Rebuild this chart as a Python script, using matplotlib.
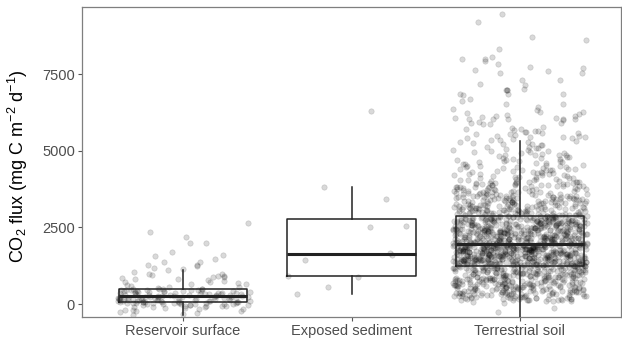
import numpy as np
import matplotlib
matplotlib.use("Agg")
import matplotlib.pyplot as plt

# ---------------- data (read / estimated from the reference picture) ----------------
categories = ["Reservoir surface", "Exposed sediment", "Terrestrial soil"]

reservoir_flux = [
    -362, -318, -290, -271, -244, -226, -205, -190, -171, -158, -140, -127, -113,
    -101, -92, -80, -69, -61, -50, -42, -33, -25, -17, -10, -4,
    2, 6, 11, 15, 19, 24, 28, 33, 37, 41, 45, 49, 53, 56, 59, 62, 64,
    68, 73, 77, 84, 86, 91, 96, 99, 104, 109, 113, 117, 122, 126, 130, 136, 139,
    143, 149, 152, 157, 162, 166, 170, 176, 179, 184, 189, 193, 197, 203, 206,
    211, 216, 220, 224, 230, 233, 238, 243, 247, 251, 256,
    264, 269, 276, 280, 286, 292, 297, 302, 309, 313, 319, 325, 330, 335, 342,
    346, 352, 358, 363, 368, 375, 379, 385, 391, 396, 401, 408, 412, 418, 424,
    429, 434, 441, 445, 451, 457, 462, 467, 474, 478, 483, 487,
    505, 528, 551, 566, 590, 612, 638, 655, 681, 702, 729, 748, 772, 805, 826,
    858, 870, 891, 913, 923, 945, 968, 978, 1054, 1108,
    1152, 1163, 1249, 1271, 1282, 1359, 1380, 1457, 1575, 1597, 1684, 1978,
    1978, 2174, 2357, 2650,
]

sediment_flux = [336, 544, 870, 923, 1434, 1597, 1652, 2520, 2553, 3423, 3804, 6302]

soil_flux = [
    -270, -118,
    31, 61, 87, 103,
    111, 115, 119, 123, 127, 133, 141, 146, 149, 153, 159, 162, 166, 171, 175,
    181, 189, 192, 197, 200, 203, 211, 218, 222, 227, 230, 234, 240, 244, 247,
    254, 258, 263, 267, 270, 275, 281, 283, 286, 291, 296, 300, 305, 308, 311,
    315, 318, 322, 325, 327, 332, 337, 340, 344, 348, 353, 357, 357, 361, 364,
    367, 372, 378, 381, 386, 389, 391, 396, 402, 405, 408, 412, 418, 421, 424,
    429, 435, 438, 441, 445, 449, 453, 459, 461, 464, 470, 475, 478, 481, 486,
    490, 493, 496, 499,
    504, 508, 512, 515, 517, 522, 527, 529, 532, 537, 542, 544, 547, 551, 552,
    556, 559, 561, 566, 570, 573, 575, 580, 585, 586, 588, 590, 595, 599, 602,
    605, 609, 614, 617, 619, 624, 628, 631, 633, 638, 643, 646, 648, 653, 658,
    660, 662, 667, 667, 672, 675, 677, 682, 687, 689, 692, 696, 701, 704, 706,
    709, 711, 716, 718, 721, 725, 730, 733, 735, 740, 745, 747,
    752, 756, 761, 763, 765, 770, 774, 776, 778, 783, 787, 789, 791, 796, 800,
    802, 805, 809, 813, 816, 818, 822, 827, 829, 831, 835, 840, 842, 844, 849,
    853, 855, 858, 862, 866, 868, 871, 875, 879, 882, 884, 888, 893, 895, 897,
    901, 906, 908, 910, 915, 919, 921, 924, 928, 932, 934, 937, 941, 945, 948,
    950, 954, 959, 961, 963, 967, 972, 974, 976, 981, 985, 987, 989, 994, 998, 999,
    1003, 1007, 1011, 1013, 1015, 1019, 1023, 1026, 1028, 1032, 1036, 1038, 1040,
    1044, 1048, 1050, 1052, 1057, 1061, 1063, 1065, 1069, 1073, 1075, 1077, 1081,
    1085, 1088, 1090, 1094, 1098, 1100, 1102, 1106, 1110, 1112, 1114, 1119, 1123,
    1125, 1127, 1131, 1135, 1137, 1139, 1143, 1147, 1150, 1152, 1156, 1160, 1162,
    1164, 1168, 1172, 1174, 1176, 1181, 1185, 1187, 1189, 1193, 1197, 1199, 1201,
    1205, 1209, 1212, 1214, 1218, 1222, 1224, 1226, 1230, 1234, 1236, 1238, 1243,
    1247, 1249,
    1251, 1253, 1255, 1258, 1260, 1262, 1263, 1266, 1266, 1268, 1270, 1272, 1274,
    1276, 1278, 1279, 1282, 1285, 1286, 1288, 1290, 1292, 1294, 1297, 1298, 1300,
    1302, 1305, 1306, 1308, 1310, 1311, 1313, 1315, 1317, 1319, 1320, 1323, 1326,
    1327, 1329, 1331, 1333, 1335, 1338, 1339, 1341, 1343, 1346, 1347, 1349, 1351,
    1354, 1356, 1358, 1360, 1362, 1364, 1366, 1368, 1370, 1372, 1374, 1376, 1379,
    1380, 1382, 1384, 1384, 1387, 1388, 1390, 1392, 1395, 1397, 1399, 1401, 1403,
    1405, 1407, 1409, 1411, 1413, 1415, 1417, 1420, 1421, 1423, 1425, 1428, 1429,
    1431, 1433, 1436, 1437, 1438, 1440, 1442, 1443, 1446, 1448, 1450, 1452, 1454,
    1456, 1458, 1461, 1462, 1464, 1466, 1469, 1470, 1472, 1474, 1477, 1479, 1481,
    1483, 1484, 1487, 1489, 1491, 1493, 1495, 1497, 1499,
    1502, 1504, 1506, 1508, 1511, 1512, 1514, 1516, 1519, 1520, 1523, 1525, 1527,
    1529, 1530, 1533, 1536, 1537, 1539, 1541, 1543, 1545, 1548, 1549, 1551, 1553,
    1553, 1556, 1557, 1559, 1561, 1564, 1566, 1568, 1570, 1571, 1574, 1577, 1578,
    1580, 1582, 1584, 1586, 1588, 1589, 1590, 1592, 1594, 1597, 1598, 1600, 1602,
    1605, 1607, 1609, 1611, 1613, 1615, 1617, 1619, 1621, 1623, 1625, 1627, 1630,
    1631, 1633, 1635, 1638, 1639, 1641, 1643, 1646, 1648, 1650, 1652, 1654, 1656,
    1658, 1660, 1662, 1664, 1666, 1668, 1669, 1671, 1672, 1674, 1676, 1679, 1680,
    1682, 1684, 1687, 1689, 1691, 1693, 1694, 1697, 1699, 1701, 1702, 1703, 1705,
    1707, 1709, 1712, 1713, 1715, 1717, 1720, 1721, 1723, 1725, 1728, 1730, 1732,
    1734, 1735, 1738, 1740, 1742, 1744, 1746, 1748,
    1752, 1754, 1756, 1758, 1759, 1761, 1764, 1765, 1767, 1769, 1771, 1772, 1775,
    1776, 1778, 1780, 1783, 1783, 1786, 1787, 1790, 1791, 1794, 1794, 1797, 1798,
    1801, 1801, 1802, 1805, 1805, 1809, 1809, 1812, 1813, 1816, 1816, 1820, 1821,
    1823, 1824, 1827, 1828, 1831, 1832, 1834, 1835, 1838, 1839, 1840, 1841, 1843,
    1845, 1847, 1849, 1851, 1852, 1854, 1856, 1859, 1860, 1862, 1863, 1866, 1867,
    1870, 1871, 1873, 1874, 1878, 1878, 1881, 1881, 1885, 1885, 1889, 1889, 1892,
    1892, 1893, 1896, 1897, 1900, 1900, 1903, 1904, 1907, 1908, 1911, 1911, 1912,
    1914, 1916, 1918, 1919, 1921, 1923, 1925, 1926, 1927, 1929, 1930, 1932, 1935,
    1936, 1938, 1940, 1942, 1943, 1946, 1947, 1949, 1950, 1953, 1954, 1955,
    1958, 1961, 1963, 1966, 1968, 1970, 1973, 1976, 1978, 1981, 1983, 1985, 1988,
    1990, 1993, 1996, 1998, 2000, 2003, 2005, 2008, 2011, 2013, 2015, 2018, 2020,
    2023, 2023, 2026, 2028, 2030, 2033, 2035, 2038, 2041, 2043, 2045, 2048, 2050,
    2053, 2056, 2058, 2060, 2063, 2065, 2068, 2071, 2073, 2075, 2078, 2080, 2083,
    2086, 2088, 2090, 2093, 2095, 2097, 2098, 2101, 2103, 2105, 2108, 2110, 2113,
    2116, 2118, 2120, 2123, 2125, 2128, 2131, 2133, 2135, 2138, 2140, 2143, 2146,
    2148, 2150, 2153, 2155, 2158, 2158, 2161, 2163, 2165, 2168, 2170, 2173, 2176,
    2178, 2180, 2183, 2185, 2188, 2191, 2193, 2195, 2198, 2200, 2203, 2206, 2208,
    2210, 2213, 2215, 2218, 2221, 2223, 2225, 2228, 2230, 2233, 2236, 2238, 2240,
    2243, 2246, 2248,
    2252, 2255, 2258, 2260, 2262, 2265, 2269, 2270, 2271, 2273, 2275, 2279, 2280,
    2284, 2286, 2288, 2291, 2295, 2296, 2297, 2299, 2301, 2304, 2306, 2310, 2311,
    2314, 2316, 2317, 2321, 2322, 2325, 2327, 2330, 2332, 2336, 2337, 2340, 2342,
    2344, 2347, 2347, 2351, 2353, 2356, 2358, 2362, 2363, 2366, 2368, 2373, 2373,
    2377, 2378, 2382, 2384, 2384, 2388, 2389, 2392, 2394, 2399, 2399, 2402, 2403,
    2404, 2408, 2409, 2414, 2414, 2418, 2419, 2420, 2425, 2425, 2429, 2430, 2434,
    2435, 2440, 2440, 2444, 2445, 2451, 2451, 2455, 2456, 2458, 2460, 2461, 2466,
    2466, 2470, 2471, 2476, 2477, 2481, 2482, 2486, 2487, 2492, 2492, 2496, 2497,
    2503, 2506, 2509, 2511, 2514, 2517, 2520, 2522, 2526, 2528, 2531, 2533, 2537,
    2539, 2542, 2544, 2547, 2548, 2550, 2554, 2556, 2559, 2561, 2561, 2565, 2567,
    2570, 2572, 2576, 2578, 2582, 2583, 2587, 2589, 2593, 2594, 2598, 2600, 2604,
    2606, 2610, 2611, 2615, 2617, 2619, 2621, 2622, 2626, 2628, 2632, 2633, 2638,
    2639, 2643, 2644, 2649, 2650, 2654, 2656, 2657, 2660, 2661, 2666, 2667, 2671,
    2672, 2677, 2678, 2682, 2683, 2688, 2689, 2692, 2694, 2694, 2699, 2700, 2705,
    2706, 2710, 2711, 2713, 2716, 2717, 2722, 2722, 2727, 2728, 2733, 2733, 2738,
    2739, 2741, 2744, 2744, 2749,
    2752, 2755, 2757, 2760, 2763, 2765, 2768, 2770, 2773, 2775, 2778, 2781, 2784,
    2786, 2789, 2791, 2794, 2796, 2799, 2801, 2805, 2807, 2810, 2812, 2815, 2817,
    2820, 2822, 2826, 2828, 2831, 2833, 2836, 2838, 2841, 2843, 2847, 2849, 2852,
    2854, 2857, 2859, 2862, 2864, 2868, 2870, 2873, 2875, 2878, 2879,
    2884, 2888, 2891, 2899, 2899, 2905, 2906, 2913, 2917, 2921, 2924, 2928, 2936,
    2936, 2943, 2943, 2950, 2956, 2958, 2962, 2965, 2972, 2975, 2980, 2981, 2987,
    2994, 2995, 3001, 3002, 3009, 3013, 3017, 3019, 3024, 3031, 3032, 3038, 3039,
    3046, 3051, 3054, 3057, 3061, 3068, 3070, 3076, 3076, 3083, 3089, 3090, 3095,
    3098, 3105, 3108, 3113, 3114, 3120, 3127, 3127, 3133, 3135, 3142, 3146, 3149,
    3152, 3157, 3164, 3165, 3171, 3172, 3179, 3184, 3186, 3190, 3194, 3201, 3203,
    3208, 3209, 3216, 3222, 3223, 3228, 3231, 3238, 3243, 3246,
    3254, 3256, 3262, 3271, 3271, 3279, 3279, 3287, 3294, 3296, 3302, 3304, 3312,
    3317, 3321, 3326, 3329, 3337, 3340, 3346, 3349, 3354, 3362, 3363, 3371, 3372,
    3379, 3386, 3387, 3396, 3396, 3404, 3410, 3412, 3419, 3421, 3429, 3433, 3437,
    3442, 3446, 3454, 3457, 3462, 3466, 3471, 3479, 3480, 3487, 3489, 3496, 3503,
    3504, 3512, 3512, 3521, 3527, 3529, 3536, 3537, 3546, 3550, 3554, 3559, 3562,
    3571, 3573, 3579, 3582, 3587, 3596, 3596,
    3605, 3608, 3617, 3628, 3631, 3639, 3643, 3651, 3662, 3666, 3674, 3678, 3685,
    3696, 3701, 3708, 3713, 3719, 3731, 3736, 3742, 3748, 3753, 3765, 3771, 3776,
    3783, 3788, 3799, 3806, 3810, 3818, 3822, 3833, 3841, 3845, 3853, 3856, 3867,
    3876, 3879, 3888, 3890, 3902, 3911, 3913, 3923, 3924, 3936, 3946, 3947, 3958,
    3959, 3970, 3981, 3981, 3993, 3993,
    4008, 4012, 4028, 4047, 4049, 4065, 4069, 4089, 4101, 4110, 4118, 4130, 4150,
    4153, 4171, 4171, 4191, 4206, 4211, 4224, 4232, 4252, 4259, 4272, 4277, 4293,
    4312, 4313, 4330, 4333, 4354, 4365, 4374, 4383, 4394, 4415, 4418, 4435, 4436,
    4455, 4471, 4476, 4489, 4496,
    4510, 4517, 4538, 4561, 4566, 4588, 4594, 4622, 4633, 4650, 4659, 4678, 4704,
    4706, 4731, 4734, 4762, 4774, 4790, 4802, 4818, 4846, 4846, 4873, 4874, 4902,
    4917, 4930, 4944, 4958, 4980, 4986,
    5017, 5024, 5055, 5083, 5093, 5118, 5131, 5169, 5177, 5207, 5212, 5245, 5268,
    5283, 5314,
    5345, 5360, 5385, 5400, 5420, 5440, 5455, 5455, 5470, 5490, 5510, 5530, 5545,
    5560, 5585, 5600, 5620, 5640, 5655, 5690, 5702, 5710, 5728, 5760, 5868, 5868,
    5891, 5911, 5945, 5998, 6021, 6021, 6032, 6032, 6032, 6054, 6075, 6108, 6119,
    6140, 6162, 6184, 6216, 6249, 6271, 6336, 6347, 6412, 6510, 6510, 6618, 6683,
    6813, 6836, 6846, 6846, 6989, 6989, 6989, 7010, 7130, 7184, 7302, 7302, 7540,
    7540, 7605, 7618, 7683, 7736, 7834, 7922, 7987, 7998, 8062, 8302, 8606, 8715,
    9203, 9454,
]

# box statistics
box_q1 = [65, 910, 1249]
box_median = [260, 1624, 1956]
box_q3 = [489, 2770, 2879]
whisker_low = [-362, 336, -700]
whisker_high = [1108, 3804, 5314]

y_ticks = [0, 2500, 5000, 7500]
y_label = "CO$_2$ flux (mg C m$^{-2}$ d$^{-1}$)"

# ---------------- styling ----------------
plt.rcParams['font.family'] = ['Liberation Sans', 'DejaVu Sans']
plt.rcParams['mathtext.default'] = 'regular'

W, H = 622, 338
fig = plt.figure(figsize=(W / 100, H / 100), dpi=100)
left, right, top, bottom = 82, 621, 7.3, 316.7
ax = fig.add_axes([left / W, 1 - bottom / H, (right - left) / W, (bottom - top) / H])

jitter = np.random.default_rng(11)
for i, vals in enumerate([reservoir_flux, sediment_flux, soil_flux]):
    vals = np.asarray(vals, dtype=float)
    xs = (i + 1) + jitter.uniform(-0.4, 0.4, len(vals))
    ax.scatter(xs, vals, s=15, facecolors='black', edgecolors='black',
               linewidths=0.5, alpha=0.15, zorder=2)

stats = []
for i in range(len(categories)):
    stats.append(dict(q1=box_q1[i], med=box_median[i], q3=box_q3[i],
                      whislo=whisker_low[i], whishi=whisker_high[i], fliers=[]))
box_col = '#222222'
ax.bxp(stats, positions=[1, 2, 3], widths=0.76, showfliers=False, showcaps=False,
       boxprops=dict(color=box_col, linewidth=1.1),
       medianprops=dict(color=box_col, linewidth=2.2, solid_capstyle='butt'),
       whiskerprops=dict(color=box_col, linewidth=1.1),
       zorder=3)

ax.set_xlim(0.4, 3.6)
ax.set_ylim(-414, 9675)
ax.set_xticks([1, 2, 3])
ax.set_xticklabels(categories)
ax.set_yticks(y_ticks)
ax.set_yticklabels([str(t) for t in y_ticks])

for sp in ax.spines.values():
    sp.set_color('#7f7f7f')
    sp.set_linewidth(0.9)
ax.tick_params(axis='both', colors='#555555', length=3, width=0.8,
               labelsize=10.5, labelcolor='#4d4d4d', pad=2)
ax.grid(False)

fig.text(18 / W, 1 - 166 / H, y_label, rotation=90, ha='center', va='center',
         fontsize=13, color='black')

fig.savefig('out.png', dpi=100)
